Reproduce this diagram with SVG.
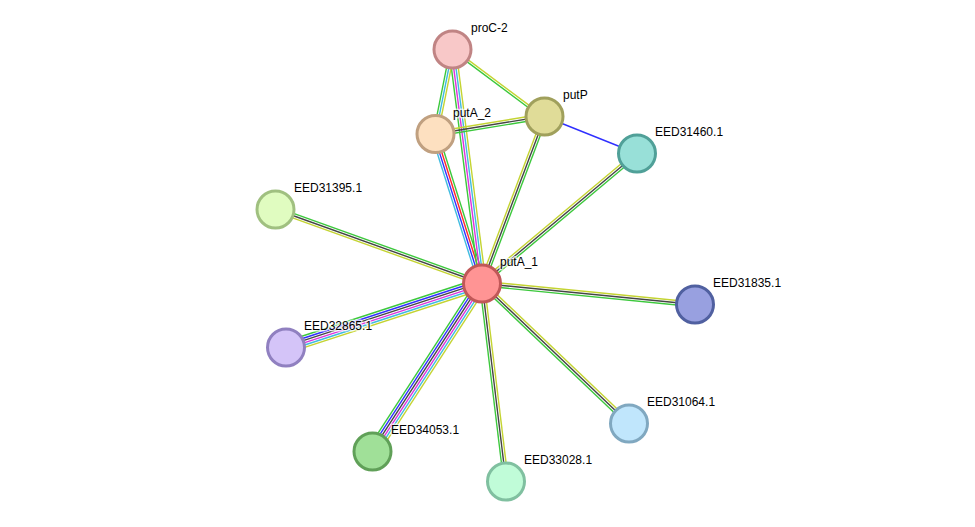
<svg xmlns="http://www.w3.org/2000/svg" width="975" height="527" viewBox="0 0 975 527">
<style>
.e line{stroke-width:1.4;fill:none}
.g{stroke:#3cc83c}.r{stroke:#ff2a2a}.b{stroke:#3030ff}.k{stroke:#454545}.m{stroke:#dd33dd}.c{stroke:#40bce0}.y{stroke:#c4d432}
.n circle{stroke-width:3}
.n text{font-family:"Liberation Sans",Arial,sans-serif;font-size:12px;fill:#000;stroke:#fff;stroke-width:3;stroke-opacity:0.7;paint-order:stroke;stroke-linejoin:round}
</style>
<rect width="975" height="527" fill="#fff"/>
<g id="connectors" class="e">
<!-- putA_1 - putA_2 -->
<g transform="translate(482,283.5) rotate(-107.51)">
<line class="g" x1="0" y1="3.45" x2="156.2" y2="3.45"/><line class="r" x1="0" y1="1.15" x2="156.2" y2="1.15"/><line class="b" x1="0" y1="-1.15" x2="156.2" y2="-1.15"/><line class="c" x1="0" y1="-3.45" x2="156.2" y2="-3.45"/>
</g>
<!-- proC-2 - putA_1 -->
<g transform="translate(452.5,49.5) rotate(82.69)">
<line class="g" x1="0" y1="3.45" x2="235.9" y2="3.45"/><line class="m" x1="0" y1="1.15" x2="235.9" y2="1.15"/><line class="c" x1="0" y1="-1.15" x2="235.9" y2="-1.15"/><line class="y" x1="0" y1="-3.45" x2="235.9" y2="-3.45"/>
</g>
<!-- putA_1 - putP -->
<g transform="translate(482,283.5) rotate(-69.33)">
<line class="g" x1="0" y1="2.3" x2="178.5" y2="2.3"/><line class="k" x1="0" y1="0" x2="178.5" y2="0"/><line class="y" x1="0" y1="-2.3" x2="178.5" y2="-2.3"/>
</g>
<!-- putA_1 - EED31460.1 -->
<g transform="translate(482,283.5) rotate(-40)">
<line class="g" x1="0" y1="2.3" x2="202.3" y2="2.3"/><line class="k" x1="0" y1="0" x2="202.3" y2="0"/><line class="y" x1="0" y1="-2.3" x2="202.3" y2="-2.3"/>
</g>
<!-- putA_1 - EED31395.1 -->
<g transform="translate(482,283.5) rotate(-160.24)">
<line class="g" x1="0" y1="2.3" x2="218.9" y2="2.3"/><line class="k" x1="0" y1="0" x2="218.9" y2="0"/><line class="y" x1="0" y1="-2.3" x2="218.9" y2="-2.3"/>
</g>
<!-- putA_1 - EED31835.1 -->
<g transform="translate(482,283.5) rotate(5.63)">
<line class="g" x1="0" y1="2.3" x2="214" y2="2.3"/><line class="k" x1="0" y1="0" x2="214" y2="0"/><line class="y" x1="0" y1="-2.3" x2="214" y2="-2.3"/>
</g>
<!-- putA_1 - EED32865.1 -->
<g transform="translate(482,283.5) rotate(161.92)">
<line class="g" x1="0" y1="5.75" x2="206.2" y2="5.75"/><line class="b" x1="0" y1="3.45" x2="206.2" y2="3.45"/><line class="k" x1="0" y1="1.15" x2="206.2" y2="1.15"/><line class="m" x1="0" y1="-1.15" x2="206.2" y2="-1.15"/><line class="c" x1="0" y1="-3.45" x2="206.2" y2="-3.45"/><line class="y" x1="0" y1="-5.75" x2="206.2" y2="-5.75"/>
</g>
<!-- putA_1 - EED31064.1 -->
<g transform="translate(482,283.5) rotate(43.6)">
<line class="g" x1="0" y1="2.3" x2="203" y2="2.3"/><line class="k" x1="0" y1="0" x2="203" y2="0"/><line class="y" x1="0" y1="-2.3" x2="203" y2="-2.3"/>
</g>
<!-- putA_1 - EED34053.1 -->
<g transform="translate(482,283.5) rotate(122.98)">
<line class="g" x1="0" y1="5.75" x2="200.3" y2="5.75"/><line class="b" x1="0" y1="3.45" x2="200.3" y2="3.45"/><line class="k" x1="0" y1="1.15" x2="200.3" y2="1.15"/><line class="m" x1="0" y1="-1.15" x2="200.3" y2="-1.15"/><line class="c" x1="0" y1="-3.45" x2="200.3" y2="-3.45"/><line class="y" x1="0" y1="-5.75" x2="200.3" y2="-5.75"/>
</g>
<!-- putA_1 - EED33028.1 -->
<g transform="translate(482,283.5) rotate(83.09)">
<line class="g" x1="0" y1="2.3" x2="199.4" y2="2.3"/><line class="k" x1="0" y1="0" x2="199.4" y2="0"/><line class="y" x1="0" y1="-2.3" x2="199.4" y2="-2.3"/>
</g>
<!-- proC-2 - putA_2 -->
<g transform="translate(452.5,49.5) rotate(101.31)">
<line class="g" x1="0" y1="2.3" x2="86.7" y2="2.3"/><line class="c" x1="0" y1="0" x2="86.7" y2="0"/><line class="y" x1="0" y1="-2.3" x2="86.7" y2="-2.3"/>
</g>
<!-- proC-2 - putP -->
<g transform="translate(452.5,49.5) rotate(36.77)">
<line class="g" x1="0" y1="1.15" x2="114.6" y2="1.15"/><line class="y" x1="0" y1="-1.15" x2="114.6" y2="-1.15"/>
</g>
<!-- putA_2 - putP -->
<g transform="translate(435.5,134) rotate(-9.29)">
<line class="g" x1="0" y1="2.3" x2="111.5" y2="2.3"/><line class="k" x1="0" y1="0" x2="111.5" y2="0"/><line class="y" x1="0" y1="-2.3" x2="111.5" y2="-2.3"/>
</g>
<!-- putP - EED31460.1 -->
<line class="b" x1="544.5" y1="116.5" x2="637" y2="153.5"/>
</g>
<g id="proC-2" class="n"><circle cx="452.5" cy="49.5" r="18.5" fill="#f8c8c8" stroke="#c08484"/><text x="471" y="32">proC-2</text></g>
<g id="putP" class="n"><circle cx="544.5" cy="116.5" r="18.5" fill="#e0dc98" stroke="#a0a05c"/><text x="563" y="99">putP</text></g>
<g id="putA_2" class="n"><circle cx="435.5" cy="134" r="18.5" fill="#fde0c0" stroke="#c0a080"/><text x="453" y="117">putA_2</text></g>
<g id="EED31460.1" class="n"><circle cx="637" cy="153.5" r="18.5" fill="#98e0d8" stroke="#50a098"/><text x="655" y="136">EED31460.1</text></g>
<g id="EED31395.1" class="n"><circle cx="275.5" cy="209.5" r="18.5" fill="#e0fcc0" stroke="#a0c080"/><text x="294" y="192">EED31395.1</text></g>
<g id="putA_1" class="n"><circle cx="482" cy="283.5" r="18.5" fill="#ff9494" stroke="#c05858"/><text x="500" y="266">putA_1</text></g>
<g id="EED31835.1" class="n"><circle cx="695" cy="304.5" r="18.5" fill="#98a0e0" stroke="#5060a0"/><text x="713" y="287">EED31835.1</text></g>
<g id="EED32865.1" class="n"><circle cx="286" cy="347.5" r="18.5" fill="#d4c4f8" stroke="#9080c0"/><text x="304" y="330">EED32865.1</text></g>
<g id="EED31064.1" class="n"><circle cx="629" cy="423.5" r="18.5" fill="#c0e6fc" stroke="#80a8c0"/><text x="647" y="406">EED31064.1</text></g>
<g id="EED34053.1" class="n"><circle cx="372.5" cy="451.5" r="18.5" fill="#a0e098" stroke="#60a058"/><text x="391" y="434">EED34053.1</text></g>
<g id="EED33028.1" class="n"><circle cx="506" cy="481.5" r="18.5" fill="#c0fcd8" stroke="#80c0a0"/><text x="524" y="464">EED33028.1</text></g>
</svg>
